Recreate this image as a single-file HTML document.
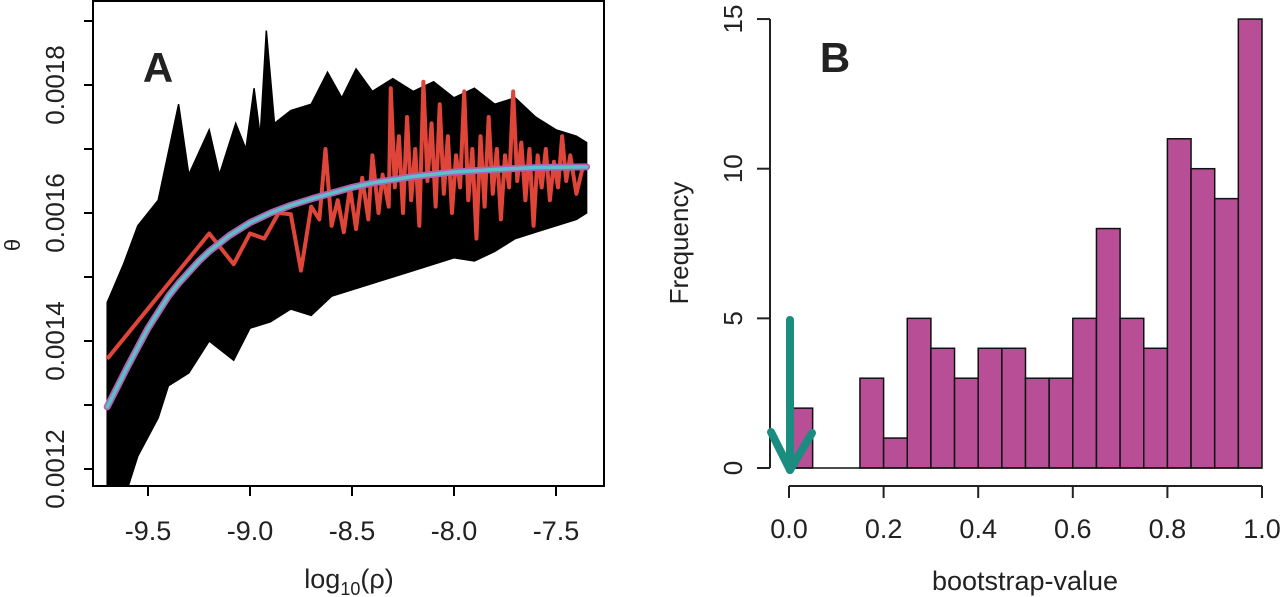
<!DOCTYPE html>
<html><head><meta charset="utf-8"><style>
html,body{margin:0;padding:0;background:#fff;width:1280px;height:597px;overflow:hidden;}
#wrap{position:relative;width:1280px;height:597px;}
svg{display:block;font-family:"Liberation Sans",Arial,sans-serif;}
</style></head><body>
<div id="wrap">
<svg id="fig" width="1280" height="597" viewBox="0 0 1280 597">
<defs><clipPath id="clipA"><rect x="93" y="1" width="511" height="485"/></clipPath></defs>
<g id="panelA"></g>
<g id="panelB"></g>
</svg>
<script>
// ---- Panel A data ----
const envX_upper = [-9.70,-9.62,-9.55,-9.45,-9.35,-9.30,-9.20,-9.15,-9.07,-9.02,-8.98,-8.95,-8.92,-8.88,-8.80,-8.70,-8.62,-8.55,-8.48,-8.40,-8.30,-8.20,-8.10,-8.00,-7.90,-7.80,-7.70,-7.60,-7.50,-7.40,-7.35];
const envV_upper = [1.46,1.52,1.58,1.62,1.77,1.66,1.73,1.66,1.74,1.70,1.795,1.72,1.885,1.74,1.76,1.77,1.82,1.78,1.825,1.79,1.81,1.79,1.805,1.78,1.795,1.77,1.78,1.75,1.73,1.72,1.71];
const envX_lower = [-9.70,-9.62,-9.55,-9.45,-9.40,-9.30,-9.20,-9.08,-9.00,-8.90,-8.80,-8.70,-8.60,-8.50,-8.40,-8.30,-8.20,-8.00,-7.90,-7.80,-7.70,-7.60,-7.50,-7.40,-7.35];
const envV_lower = [1.15,1.15,1.22,1.28,1.33,1.35,1.40,1.37,1.42,1.43,1.45,1.44,1.47,1.48,1.49,1.50,1.51,1.53,1.525,1.54,1.56,1.57,1.58,1.59,1.60];
const fitX = [-9.70,-9.60,-9.50,-9.40,-9.35,-9.25,-9.20,-9.10,-9.00,-8.90,-8.80,-8.70,-8.60,-8.50,-8.40,-8.30,-8.20,-8.00,-7.80,-7.60,-7.35];
const fitV = [1.297,1.36,1.42,1.47,1.49,1.525,1.54,1.565,1.585,1.60,1.612,1.622,1.631,1.640,1.647,1.652,1.657,1.664,1.668,1.671,1.672];
const redX = [-9.70,-9.20,-9.08,-9.00,-8.93,-8.86,-8.80,-8.75,-8.70,-8.66,-8.63,-8.60,-8.57,-8.54,-8.51,-8.48,-8.45,-8.42,-8.40,-8.37,-8.35,-8.32,-8.31,-8.29,-8.27,-8.25,-8.23,-8.21,-8.19,-8.17,-8.15,-8.13,-8.11,-8.09,-8.07,-8.05,-8.03,-8.01,-7.99,-7.97,-7.95,-7.93,-7.91,-7.89,-7.87,-7.85,-7.83,-7.81,-7.79,-7.77,-7.75,-7.73,-7.71,-7.69,-7.67,-7.65,-7.63,-7.61,-7.59,-7.57,-7.55,-7.53,-7.51,-7.49,-7.47,-7.45,-7.43,-7.40,-7.37];
const redV = [1.372,1.568,1.520,1.568,1.560,1.600,1.598,1.510,1.610,1.590,1.700,1.580,1.620,1.570,1.640,1.575,1.655,1.590,1.690,1.600,1.660,1.610,1.795,1.640,1.720,1.600,1.750,1.620,1.700,1.580,1.805,1.650,1.740,1.610,1.770,1.630,1.720,1.600,1.690,1.640,1.790,1.620,1.700,1.560,1.720,1.610,1.750,1.630,1.700,1.590,1.690,1.640,1.790,1.650,1.710,1.620,1.700,1.580,1.690,1.640,1.700,1.620,1.680,1.640,1.720,1.650,1.690,1.630,1.670];
const aXTicks = [-9.5,-9.0,-8.5,-8.0,-7.5];
const aXLabels = ["-9.5","-9.0","-8.5","-8.0","-7.5"];
const aYTicks = [1.2,1.3,1.4,1.5,1.6,1.7,1.8,1.9];
const aYLabels = {"1.2":"0.0012","1.4":"0.0014","1.6":"0.0016","1.8":"0.0018"};
// ---- Panel B data ----
const binStarts = [0,0.05,0.1,0.15,0.2,0.25,0.3,0.35,0.4,0.45,0.5,0.55,0.6,0.65,0.7,0.75,0.8,0.85,0.9,0.95];
const binCounts = [2,0,0,3,1,5,4,3,4,4,3,3,5,8,5,4,11,10,9,15];
const bXTicks = [0,0.2,0.4,0.6,0.8,1.0];
const bXLabels = ["0.0","0.2","0.4","0.6","0.8","1.0"];
const bYTicks = [0,5,10,15];

const NS="http://www.w3.org/2000/svg";
function mk(tag,attrs,parent){const e=document.createElementNS(NS,tag);for(const k in attrs)e.setAttribute(k,attrs[k]);parent.appendChild(e);return e;}
const ax=v=>250+(v+9)*204;
const ay=v=>213-(v-1.6)*640;
const A=document.getElementById('panelA');

const clipG=mk('g',{'clip-path':'url(#clipA)'},A);


let pts=envX_upper.map((x,i)=>ax(x)+','+ay(envV_upper[i]));
for(let i=envX_lower.length-1;i>=0;i--)pts.push(ax(envX_lower[i])+','+ay(envV_lower[i]));
const band=mk('polygon',{points:pts.join(' '),fill:'#000',stroke:'#000','stroke-width':1.5,'stroke-linejoin':'miter'},clipG);


const red=mk('polyline',{points:redX.map((x,i)=>ax(x)+','+ay(redV[i])).join(' '),fill:'none',stroke:'#e0453a','stroke-width':4,'stroke-linejoin':'round'},clipG);


const fp=fitX.map((x,i)=>ax(x)+','+ay(fitV[i])).join(' ');
const mag=mk('polyline',{points:fp,fill:'none',stroke:'#b060b0','stroke-width':7,'stroke-linecap':'round','stroke-linejoin':'round'},clipG);


const cy=mk('polyline',{points:fp,fill:'none',stroke:'#5cc0c8','stroke-width':3.5,'stroke-linecap':'round','stroke-linejoin':'round'},clipG);


const boxA=mk('rect',{x:93,y:1,width:511,height:485,fill:'none',stroke:'#000','stroke-width':2},A);


aXTicks.forEach((v,i)=>{
  const t=mk('line',{x1:ax(v),x2:ax(v),y1:486,y2:496,stroke:'#000','stroke-width':2},A);
  
  
  const l=mk('text',{x:ax(v),y:540,'font-size':27,'text-anchor':'middle',fill:'#222'},A);
  l.textContent=aXLabels[i];
  
  
});
aYTicks.forEach(v=>{
  const t=mk('line',{x1:84,x2:93,y1:ay(v),y2:ay(v),stroke:'#000','stroke-width':2},A);
  
  
  const lab=aYLabels[v.toFixed(1)];
  if(lab){
    const l=mk('text',{x:0,y:0,'font-size':26,'text-anchor':'middle',fill:'#222',transform:`translate(64,${ay(v)}) rotate(-90)`},A);
    l.textContent=lab;
    
    
  }
});
</script>
<script>
const bx=v=>789+v*473;
const by=v=>468-v*29.93;
const B=document.getElementById('panelB');
binStarts.forEach((s,i)=>{
  if(binCounts[i]<=0)return;
  const r=mk('rect',{x:bx(s),y:by(binCounts[i]),width:bx(s+0.05)-bx(s),height:by(0)-by(binCounts[i]),fill:'#b84f96',stroke:'#111','stroke-width':1.5},B);
  
  
});
const base=mk('line',{x1:bx(0),x2:bx(1),y1:by(0),y2:by(0),stroke:'#111','stroke-width':1.5},B);


const xa=mk('line',{x1:bx(0),x2:bx(1),y1:486,y2:486,stroke:'#222','stroke-width':2},B);


bXTicks.forEach((v,i)=>{
  const t=mk('line',{x1:bx(v),x2:bx(v),y1:486,y2:498,stroke:'#222','stroke-width':2},B);
  
  
  const l=mk('text',{x:bx(v),y:538,'font-size':27,'text-anchor':'middle',fill:'#222'},B);
  l.textContent=bXLabels[i];
  
  
});
const ya=mk('line',{x1:770,x2:770,y1:by(0),y2:by(15),stroke:'#222','stroke-width':2},B);


bYTicks.forEach(v=>{
  const t=mk('line',{x1:757,x2:770,y1:by(v),y2:by(v),stroke:'#222','stroke-width':2},B);
  
  
  const l=mk('text',{x:0,y:0,'font-size':26,'text-anchor':'middle',fill:'#222',transform:`translate(742,${by(v)}) rotate(-90)`},B);
  l.textContent=String(v);
  
  
});
</script>
<svg style="position:absolute;left:0;top:0" width="1280" height="597" viewBox="0 0 1280 597">
<text x="158" y="82" font-size="42" font-weight="bold" text-anchor="middle" fill="#222" font-family="Liberation Sans, sans-serif">A</text>
<text x="835" y="72" font-size="42" font-weight="bold" text-anchor="middle" fill="#222" font-family="Liberation Sans, sans-serif">B</text>
<text x="349" y="588" font-size="27" text-anchor="middle" fill="#222" font-family="Liberation Sans, sans-serif">log<tspan font-size="18" dy="7">10</tspan><tspan dy="-7">(ρ)</tspan></text>
<text transform="translate(20,245) rotate(-90)" font-size="22" text-anchor="middle" fill="#222" font-family="Liberation Sans, sans-serif">θ</text>
<text x="1025" y="590" font-size="27" text-anchor="middle" fill="#222" font-family="Liberation Sans, sans-serif">bootstrap-value</text>
<text transform="translate(688,243) rotate(-90)" font-size="26" text-anchor="middle" fill="#222" font-family="Liberation Sans, sans-serif">Frequency</text>
<g stroke="#1a8c80" stroke-width="8" stroke-linecap="round" stroke-linejoin="round" fill="none">
<line x1="790" y1="320" x2="790" y2="470"/>
<polyline points="771,432 790,470 812,433"/>
</g>
</svg>
</div>
</body></html>
